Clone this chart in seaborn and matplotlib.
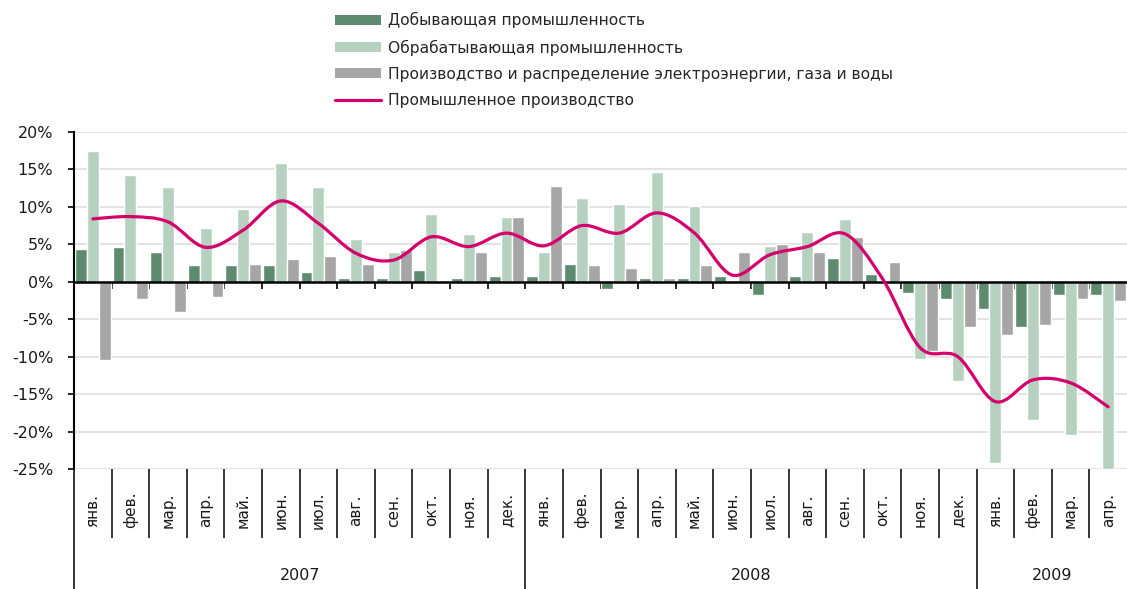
import matplotlib
matplotlib.use('Agg')
import matplotlib.pyplot as plt
from matplotlib.path import Path
from matplotlib.patches import PathPatch, Patch
from matplotlib.lines import Line2D
import seaborn as sns
import pandas as pd

month_names = ['янв.', 'фев.', 'мар.', 'апр.', 'май.', 'июн.',
               'июл.', 'авг.', 'сен.', 'окт.', 'ноя.', 'дек.']
months = month_names * 2 + month_names[:4]
years = ['2007', '2008', '2009']
year_months = [12, 12, 4]

series_names = ['Добывающая промышленность',
                'Обрабатывающая промышленность',
                'Производство и распределение электроэнергии, газа и воды']
line_name = 'Промышленное производство'

mining = [4.4, 4.6, 4.0, 2.2, 2.2, 2.2, 1.3, 0.5, 0.5, 1.6, 0.5, 0.8,
          0.8, 2.4, -0.9, 0.5, 0.5, 0.8, -1.8, 0.8, 3.2, 1.1, -1.5, -2.3,
          -3.6, -6.0, -1.8, -1.8]
manufacturing = [17.4, 14.2, 12.6, 7.2, 9.7, 15.8, 12.6, 5.7, 4.0, 9.1, 6.4, 8.6,
                 4.0, 11.2, 10.4, 14.7, 10.1, 0.3, 4.8, 6.7, 8.4, 0.1, -10.3, -13.3,
                 -24.2, -18.4, -20.5, -25.0]
utilities = [-10.5, -2.3, -4.0, -2.0, 2.4, 3.0, 3.5, 2.4, 4.3, -0.2, 4.0, 8.6,
             12.8, 2.2, 1.9, 0.5, 2.2, 4.0, 5.1, 4.0, 6.0, 2.7, -9.3, -6.0,
             -7.1, -5.8, -2.3, -2.6]
industry = [8.4, 8.7, 8.0, 4.6, 6.9, 10.8, 7.8, 3.8, 2.9, 6.0, 4.7, 6.5,
            4.8, 7.5, 6.5, 9.2, 6.5, 0.9, 3.6, 4.7, 6.4, 0.4, -8.8, -10.0,
            -16.0, -13.1, -13.5, -16.7]

yticks = [20, 15, 10, 5, 0, -5, -10, -15, -20, -25]
ytick_labels = ['20%', '15%', '10%', '5%', '0%', '-5%', '-10%', '-15%', '-20%', '-25%']

colors = ['#5e8a70', '#b6d1c0', '#a6a6a6']
line_color = '#d4006c'

sns.set_style('white')
plt.rcParams['font.family'] = ['DejaVu Sans']
plt.rcParams['axes.unicode_minus'] = False

n = len(months)
df = pd.DataFrame({
    'pos': list(range(n)) * 3,
    'value': mining + manufacturing + utilities,
    'series': [series_names[0]] * n + [series_names[1]] * n + [series_names[2]] * n,
})

fig = plt.figure(figsize=(11.27, 5.89), dpi=100)
ax = fig.add_axes([74 / 1127, 120 / 589, 1053 / 1127, 337 / 589])

sns.barplot(data=df, x='pos', y='value', hue='series', hue_order=series_names,
            palette=colors, saturation=1, width=0.95, errorbar=None,
            legend=False, ax=ax, zorder=2)

# smoothed line (Excel-style cubic Bezier through the points)
pts = list(zip(range(n), industry))
verts = [pts[0]]
codes = [Path.MOVETO]
for i in range(n - 1):
    p0 = pts[i - 1] if i > 0 else pts[i]
    p1, p2 = pts[i], pts[i + 1]
    p3 = pts[i + 2] if i + 2 < n else pts[i + 1]
    c1 = (p1[0] + (p2[0] - p0[0]) / 6, p1[1] + (p2[1] - p0[1]) / 6)
    c2 = (p2[0] - (p3[0] - p1[0]) / 6, p2[1] - (p3[1] - p1[1]) / 6)
    verts += [c1, c2, p2]
    codes += [Path.CURVE4] * 3
ax.add_patch(PathPatch(Path(verts, codes), facecolor='none', edgecolor=line_color,
                       lw=2.3, zorder=4, capstyle='round'))

ax.set_xlim(-0.5, n - 0.5)
ax.set_ylim(-25, 20)
ax.set_yticks(yticks)
ax.set_yticklabels(ytick_labels, fontsize=11.5, color='#1a1a1a')
ax.yaxis.grid(True, color='#dedede', lw=1.2, zorder=0)
ax.set_axisbelow(True)
ax.tick_params(axis='y', direction='out', length=4, width=1.2, color='black', pad=11,
               left=True)
ax.set_xlabel('')
ax.set_ylabel('')

for s in ['top', 'right']:
    ax.spines[s].set_visible(False)
ax.spines['left'].set_color('black')
ax.spines['left'].set_linewidth(1.5)
ax.spines['bottom'].set_position(('data', 0))
ax.spines['bottom'].set_color('black')
ax.spines['bottom'].set_linewidth(1.8)
ax.spines['bottom'].set_zorder(3)
ax.set_xticks([i + 0.5 for i in range(n - 1)])
ax.set_xticklabels([])
ax.tick_params(axis='x', direction='out', length=5, width=1.2, color='black', bottom=True)

# category axis below the plot: month and year separators
sec = ax.secondary_xaxis(0)
sec.spines['bottom'].set_visible(False)
bounds = [-0.5]
for k in year_months:
    bounds.append(bounds[-1] + k)
sec.set_xticks(bounds[:-1])
sec.set_xticks([i + 0.5 for i in range(n - 1) if i + 0.5 not in bounds], minor=True)
sec.set_xticklabels([])
sec.tick_params(axis='x', which='major', length=87, width=1.1, color='black', bottom=True)
sec.tick_params(axis='x', which='minor', length=50, width=1.1, color='black', bottom=True)

tr = ax.get_xaxis_transform()
for i, m in enumerate(months):
    ax.text(i, -0.122, m, rotation=90, ha='center', va='center', fontsize=11,
            color='#1a1a1a', transform=tr)
for j, y in enumerate(years):
    mid = (bounds[j] + bounds[j + 1]) / 2
    ax.text(mid, -0.315, y, ha='center', va='center', fontsize=11.5,
            color='#1a1a1a', transform=tr)

handles = [Patch(facecolor=c, edgecolor='none') for c in colors]
handles.append(Line2D([0], [0], color=line_color, lw=2.3))
fig.legend(handles, series_names + [line_name], loc='upper left',
           bbox_to_anchor=(335 / 1127, 1 - 12 / 589), frameon=False, fontsize=11.2,
           handlelength=2.95, handleheight=0.65, handletextpad=0.45,
           labelspacing=0.72, borderpad=0, borderaxespad=0)

fig.savefig('out.png', dpi=100)
